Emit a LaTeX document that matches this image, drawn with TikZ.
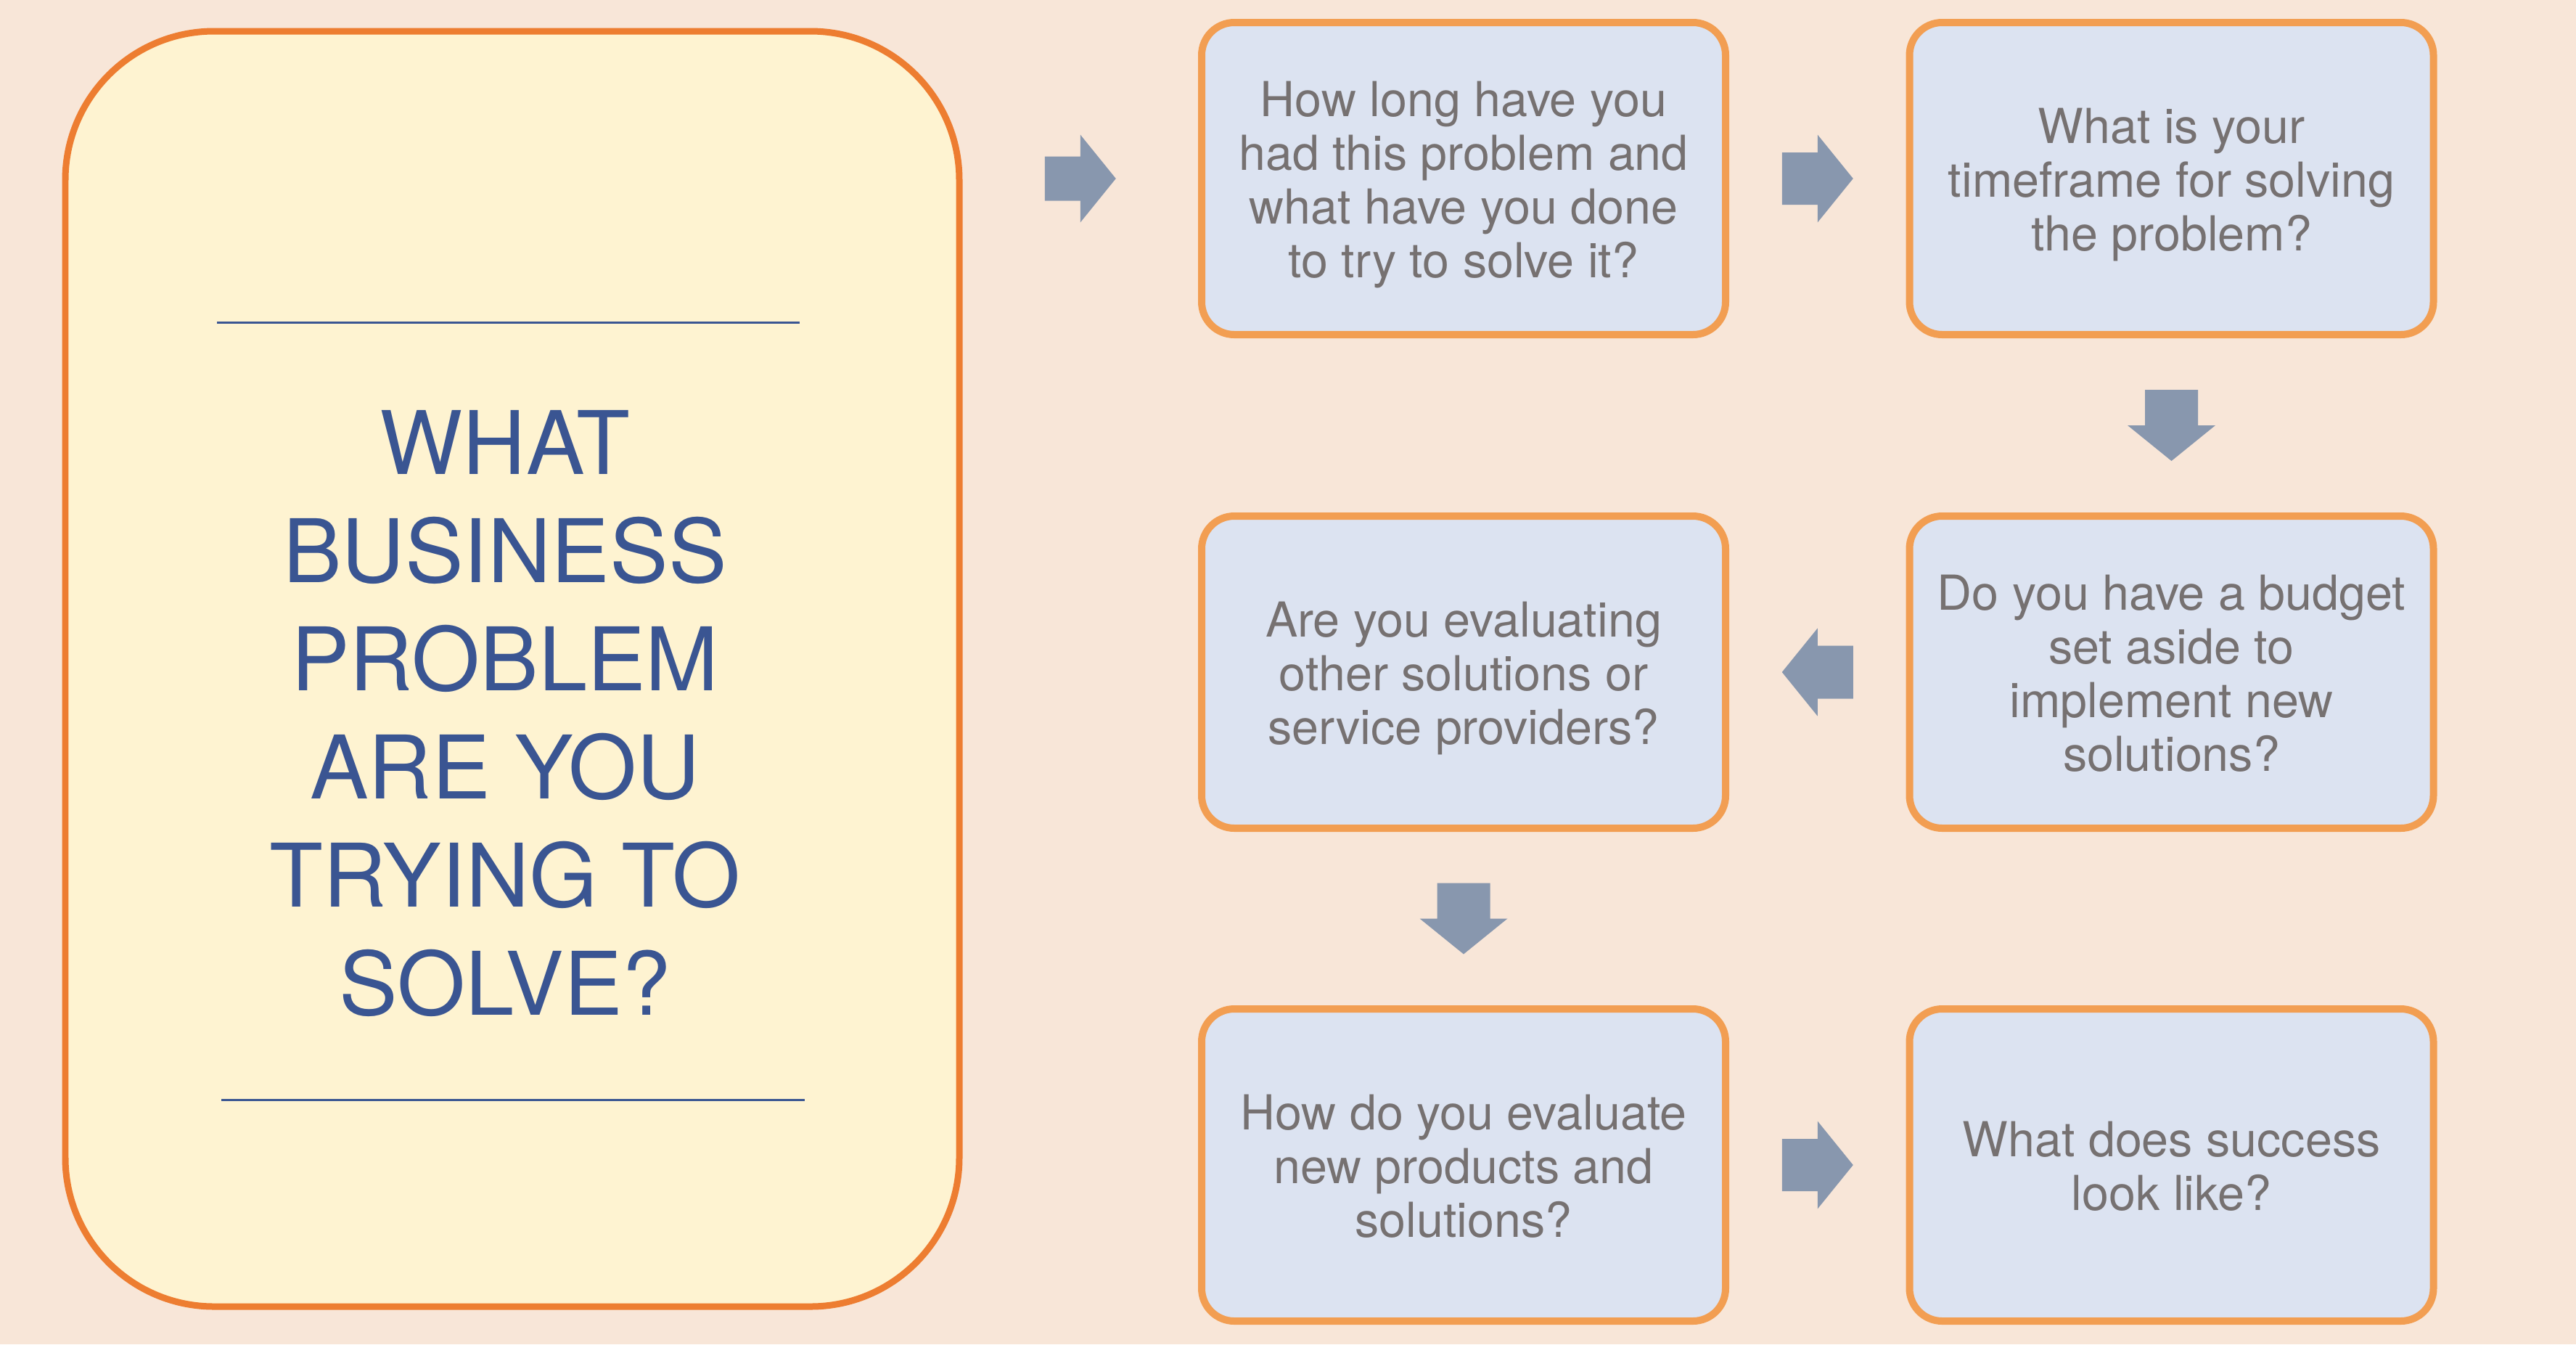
\documentclass[tikz,border=0pt]{standalone}
\usepackage{fontspec}
\setmainfont{TeX Gyre Heros}
\usetikzlibrary{calc}
\definecolor{bgpeach}{HTML}{F8E6D8}
\definecolor{mainyellow}{HTML}{FEF3D1}
\definecolor{mainorange}{HTML}{ED7D31}
\definecolor{qblue}{HTML}{DCE3F1}
\definecolor{qorange}{HTML}{F29E52}
\definecolor{qgrey}{HTML}{767171}
\definecolor{titleblue}{HTML}{3A5592}
\definecolor{arrowgrey}{HTML}{8897AE}
\newcommand{\qtop}{\rule{0pt}{19.1pt}}
\newcommand{\qbot}{\rule[-4.35pt]{0pt}{4.35pt}}
\begin{document}
\begin{tikzpicture}[
  mainbox/.style={draw=mainorange, fill=mainyellow, line width=.09cm, rounded corners=2.05cm, minimum width=12.32cm, minimum height=17.57cm},
  qbox/.style={draw=qorange, fill=qblue, line width=.1cm, rounded corners=.45cm, minimum width=7.22cm, minimum height=4.3cm, align=center, text=qgrey, font=\fontsize{18.9pt}{21.05pt}\selectfont},
  headline/.style={align=center, text=titleblue, font=\fontsize{34.4pt}{42.4pt}\selectfont},
  rule/.style={draw=titleblue, line width=.03cm},
  flowarrow/.style={fill=arrowgrey}]
\path [use as bounding box, fill=bgpeach] (0,0) rectangle (35.5,-18.52);
\node [mainbox] (main) at (7.06,-9.215) {};
\draw [rule] (2.99,-4.44) -- (11.02,-4.44);
\draw [rule] (3.05,-15.15) -- (11.09,-15.15);
\node [headline] (question) at (6.96,-9.83) {WHAT\\BUSINESS\\PROBLEM\\ARE YOU\\TRYING TO\\SOLVE?};
\foreach \n/\x/\y/\t in {
  b1/20.17/-2.46/{How long have you\\had this problem and\\what have you done\\to try to solve it?},
  b2/29.925/-2.46/{What is your\\timeframe for solving\\the problem?},
  b3/29.925/-9.26/{Do you have a budget\\set aside to\\implement new\\solutions?},
  b4/20.17/-9.26/{Are you evaluating\\other solutions or\\service providers?},
  b5/20.17/-16.05/{How do you evaluate\\new products and\\solutions?},
  b6/29.925/-16.05/{What does success\\look like?}}{
  \node [qbox] (\n) at (\x,\y) {\qtop\t\qbot};
}
\foreach \a/\b/\r/\s in {main.east |- b1.west/b1.west/0/.305, b1.east/b2.west/0/.36, b2.south/b3.north/-90/.365, b3.west/b4.east/180/.365, b4.south/b5.north/-90/.365, b5.east/b6.west/0/.36}{
  \fill [flowarrow, shift={($(\a)!.5!(\b)$)}, rotate=\r] (-.49,-\s) -- (0,-\s) -- (0,-.605) -- (.49,0) -- (0,.605) -- (0,\s) -- (-.49,\s) -- cycle;
}
\end{tikzpicture}
\end{document}
